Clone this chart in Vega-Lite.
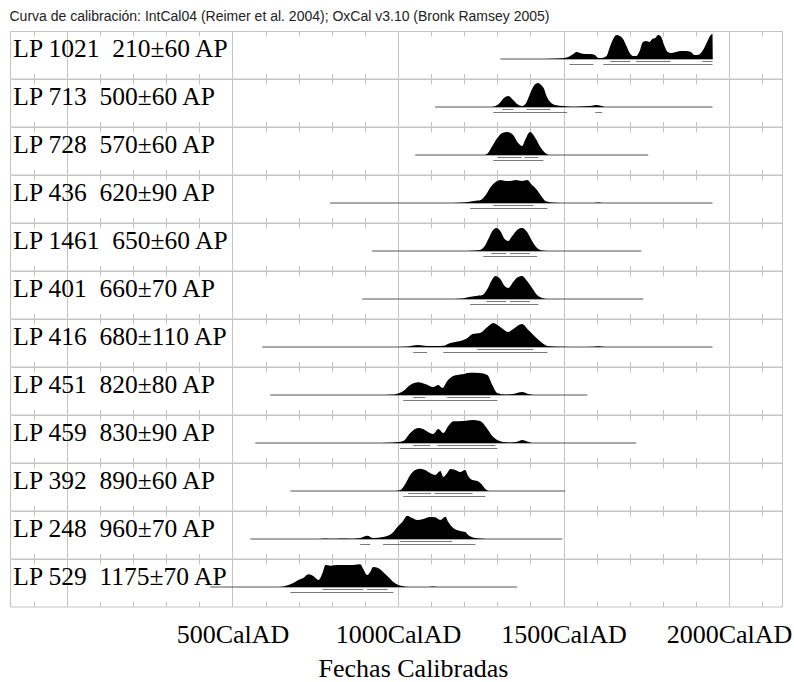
{
"$schema": "https://vega.github.io/schema/vega-lite/v6.json",
"padding": {"left": 9, "top": 9, "right": 10, "bottom": 0},
"title": {"text": "Curva de calibración: IntCal04 (Reimer et al. 2004); OxCal v3.10 (Bronk Ramsey 2005)", "anchor": "start", "font": "Liberation Sans", "fontSize": 14, "fontWeight": "normal", "color": "#222222", "offset": 6.5},
"config": {"view": {"stroke": "#c4c4c4"}, "concat": {"spacing": 0}, "facet": {"spacing": 0}},
"spacing": 0,
"datasets": {"all": [
{"s":"LP 1021","k":"l","t":"LP 1021\u00a0\u00a0210±60 AP"},
{"s":"LP 1021","k":"b","x":1309,"x2":1950},
{"s":"LP 1021","k":"r1","x":1641,"x2":1702},{"s":"LP 1021","k":"r1","x":1720,"x2":1823},{"s":"LP 1021","k":"r1","x":1919,"x2":1950},
{"s":"LP 1021","k":"r2","x":1518,"x2":1590},{"s":"LP 1021","k":"r2","x":1620,"x2":1950},
{"s":"LP 1021","k":"d","x":1440,"p":0},{"s":"LP 1021","k":"d","x":1480,"p":0.5},{"s":"LP 1021","k":"d","x":1510,"p":1.5},{"s":"LP 1021","k":"d","x":1525,"p":4},{"s":"LP 1021","k":"d","x":1540,"p":7},{"s":"LP 1021","k":"d","x":1550,"p":6},{"s":"LP 1021","k":"d","x":1565,"p":5},{"s":"LP 1021","k":"d","x":1580,"p":5},{"s":"LP 1021","k":"d","x":1595,"p":4},{"s":"LP 1021","k":"d","x":1605,"p":1},{"s":"LP 1021","k":"d","x":1615,"p":1},{"s":"LP 1021","k":"d","x":1630,"p":3},{"s":"LP 1021","k":"d","x":1640,"p":12},{"s":"LP 1021","k":"d","x":1650,"p":20},{"s":"LP 1021","k":"d","x":1660,"p":24},{"s":"LP 1021","k":"d","x":1670,"p":23},{"s":"LP 1021","k":"d","x":1680,"p":20},{"s":"LP 1021","k":"d","x":1690,"p":13},{"s":"LP 1021","k":"d","x":1700,"p":6},{"s":"LP 1021","k":"d","x":1710,"p":3},{"s":"LP 1021","k":"d","x":1720,"p":3},{"s":"LP 1021","k":"d","x":1730,"p":8},{"s":"LP 1021","k":"d","x":1740,"p":17},{"s":"LP 1021","k":"d","x":1750,"p":18},{"s":"LP 1021","k":"d","x":1760,"p":17},{"s":"LP 1021","k":"d","x":1768,"p":20},{"s":"LP 1021","k":"d","x":1777,"p":21},{"s":"LP 1021","k":"d","x":1786,"p":24},{"s":"LP 1021","k":"d","x":1795,"p":22},{"s":"LP 1021","k":"d","x":1805,"p":13},{"s":"LP 1021","k":"d","x":1815,"p":7},{"s":"LP 1021","k":"d","x":1825,"p":6},{"s":"LP 1021","k":"d","x":1840,"p":7},{"s":"LP 1021","k":"d","x":1855,"p":8},{"s":"LP 1021","k":"d","x":1870,"p":8},{"s":"LP 1021","k":"d","x":1885,"p":7},{"s":"LP 1021","k":"d","x":1895,"p":4},{"s":"LP 1021","k":"d","x":1905,"p":4},{"s":"LP 1021","k":"d","x":1915,"p":6},{"s":"LP 1021","k":"d","x":1925,"p":11},{"s":"LP 1021","k":"d","x":1935,"p":18},{"s":"LP 1021","k":"d","x":1945,"p":24},{"s":"LP 1021","k":"d","x":1950,"p":25},{"s":"LP 1021","k":"d","x":1951,"p":0},

{"s":"LP 713","k":"l","t":"LP 713\u00a0\u00a0500±60 AP"},
{"s":"LP 713","k":"b","x":1112,"x2":1950},
{"s":"LP 713","k":"r1","x":1315,"x2":1349},{"s":"LP 713","k":"r1","x":1388,"x2":1460},
{"s":"LP 713","k":"r2","x":1288,"x2":1511},{"s":"LP 713","k":"r2","x":1596,"x2":1617},
{"s":"LP 713","k":"d","x":1280,"p":0},{"s":"LP 713","k":"d","x":1295,"p":1},{"s":"LP 713","k":"d","x":1310,"p":5},{"s":"LP 713","k":"d","x":1320,"p":9},{"s":"LP 713","k":"d","x":1333,"p":11},{"s":"LP 713","k":"d","x":1345,"p":8},{"s":"LP 713","k":"d","x":1360,"p":3},{"s":"LP 713","k":"d","x":1375,"p":1},{"s":"LP 713","k":"d","x":1385,"p":3},{"s":"LP 713","k":"d","x":1395,"p":10},{"s":"LP 713","k":"d","x":1405,"p":18},{"s":"LP 713","k":"d","x":1415,"p":23},{"s":"LP 713","k":"d","x":1424,"p":24},{"s":"LP 713","k":"d","x":1432,"p":22},{"s":"LP 713","k":"d","x":1440,"p":19},{"s":"LP 713","k":"d","x":1450,"p":10},{"s":"LP 713","k":"d","x":1460,"p":5},{"s":"LP 713","k":"d","x":1475,"p":2},{"s":"LP 713","k":"d","x":1500,"p":1},{"s":"LP 713","k":"d","x":1525,"p":0.3},{"s":"LP 713","k":"d","x":1550,"p":0.5},{"s":"LP 713","k":"d","x":1580,"p":1},{"s":"LP 713","k":"d","x":1600,"p":2},{"s":"LP 713","k":"d","x":1610,"p":1.5},{"s":"LP 713","k":"d","x":1625,"p":0},

{"s":"LP 728","k":"l","t":"LP 728\u00a0\u00a0570±60 AP"},
{"s":"LP 728","k":"b","x":1052,"x2":1756},
{"s":"LP 728","k":"r1","x":1300,"x2":1373},{"s":"LP 728","k":"r1","x":1382,"x2":1424},
{"s":"LP 728","k":"r2","x":1288,"x2":1439},
{"s":"LP 728","k":"d","x":1262,"p":0},{"s":"LP 728","k":"d","x":1272,"p":2},{"s":"LP 728","k":"d","x":1285,"p":9},{"s":"LP 728","k":"d","x":1300,"p":17},{"s":"LP 728","k":"d","x":1315,"p":22},{"s":"LP 728","k":"d","x":1330,"p":23},{"s":"LP 728","k":"d","x":1348,"p":20},{"s":"LP 728","k":"d","x":1363,"p":12},{"s":"LP 728","k":"d","x":1375,"p":9},{"s":"LP 728","k":"d","x":1384,"p":15},{"s":"LP 728","k":"d","x":1399,"p":23},{"s":"LP 728","k":"d","x":1415,"p":17},{"s":"LP 728","k":"d","x":1430,"p":8},{"s":"LP 728","k":"d","x":1445,"p":2},{"s":"LP 728","k":"d","x":1456,"p":0},

{"s":"LP 436","k":"l","t":"LP 436\u00a0\u00a0620±90 AP"},
{"s":"LP 436","k":"b","x":795,"x2":1950},
{"s":"LP 436","k":"r1","x":1288,"x2":1409},
{"s":"LP 436","k":"r2","x":1218,"x2":1451},
{"s":"LP 436","k":"d","x":1150,"p":0},{"s":"LP 436","k":"d","x":1180,"p":0.3},{"s":"LP 436","k":"d","x":1210,"p":1},{"s":"LP 436","k":"d","x":1230,"p":2},{"s":"LP 436","k":"d","x":1250,"p":3},{"s":"LP 436","k":"d","x":1265,"p":8},{"s":"LP 436","k":"d","x":1280,"p":16},{"s":"LP 436","k":"d","x":1295,"p":21},{"s":"LP 436","k":"d","x":1310,"p":23},{"s":"LP 436","k":"d","x":1325,"p":22},{"s":"LP 436","k":"d","x":1340,"p":22},{"s":"LP 436","k":"d","x":1355,"p":23},{"s":"LP 436","k":"d","x":1375,"p":22},{"s":"LP 436","k":"d","x":1390,"p":23},{"s":"LP 436","k":"d","x":1405,"p":18},{"s":"LP 436","k":"d","x":1420,"p":13},{"s":"LP 436","k":"d","x":1435,"p":6},{"s":"LP 436","k":"d","x":1445,"p":2},{"s":"LP 436","k":"d","x":1465,"p":0.5},{"s":"LP 436","k":"d","x":1490,"p":0},{"s":"LP 436","k":"d","x":1590,"p":0},{"s":"LP 436","k":"d","x":1605,"p":0.4},{"s":"LP 436","k":"d","x":1620,"p":0},

{"s":"LP 1461","k":"l","t":"LP 1461\u00a0\u00a0650±60 AP"},
{"s":"LP 1461","k":"b","x":922,"x2":1735},
{"s":"LP 1461","k":"r1","x":1282,"x2":1327},{"s":"LP 1461","k":"r1","x":1339,"x2":1399},
{"s":"LP 1461","k":"r2","x":1258,"x2":1420},
{"s":"LP 1461","k":"d","x":1200,"p":0},{"s":"LP 1461","k":"d","x":1220,"p":0.3},{"s":"LP 1461","k":"d","x":1248,"p":1},{"s":"LP 1461","k":"d","x":1262,"p":5},{"s":"LP 1461","k":"d","x":1273,"p":12},{"s":"LP 1461","k":"d","x":1285,"p":20},{"s":"LP 1461","k":"d","x":1297,"p":23},{"s":"LP 1461","k":"d","x":1309,"p":20},{"s":"LP 1461","k":"d","x":1322,"p":12},{"s":"LP 1461","k":"d","x":1333,"p":10},{"s":"LP 1461","k":"d","x":1345,"p":15},{"s":"LP 1461","k":"d","x":1360,"p":21},{"s":"LP 1461","k":"d","x":1375,"p":23},{"s":"LP 1461","k":"d","x":1390,"p":19},{"s":"LP 1461","k":"d","x":1405,"p":10},{"s":"LP 1461","k":"d","x":1420,"p":3},{"s":"LP 1461","k":"d","x":1436,"p":0.5},{"s":"LP 1461","k":"d","x":1450,"p":0},

{"s":"LP 401","k":"l","t":"LP 401\u00a0\u00a0660±70 AP"},
{"s":"LP 401","k":"b","x":892,"x2":1741},
{"s":"LP 401","k":"r1","x":1267,"x2":1327},{"s":"LP 401","k":"r1","x":1339,"x2":1399},
{"s":"LP 401","k":"r2","x":1218,"x2":1424},
{"s":"LP 401","k":"d","x":1170,"p":0},{"s":"LP 401","k":"d","x":1195,"p":0.5},{"s":"LP 401","k":"d","x":1215,"p":2},{"s":"LP 401","k":"d","x":1235,"p":3},{"s":"LP 401","k":"d","x":1255,"p":4},{"s":"LP 401","k":"d","x":1270,"p":10},{"s":"LP 401","k":"d","x":1282,"p":18},{"s":"LP 401","k":"d","x":1294,"p":23},{"s":"LP 401","k":"d","x":1309,"p":20},{"s":"LP 401","k":"d","x":1322,"p":13},{"s":"LP 401","k":"d","x":1333,"p":11},{"s":"LP 401","k":"d","x":1348,"p":17},{"s":"LP 401","k":"d","x":1363,"p":22},{"s":"LP 401","k":"d","x":1375,"p":23},{"s":"LP 401","k":"d","x":1390,"p":18},{"s":"LP 401","k":"d","x":1405,"p":11},{"s":"LP 401","k":"d","x":1420,"p":4},{"s":"LP 401","k":"d","x":1436,"p":1},{"s":"LP 401","k":"d","x":1450,"p":0},

{"s":"LP 416","k":"l","t":"LP 416\u00a0\u00a0680±110 AP"},
{"s":"LP 416","k":"b","x":590,"x2":1950},
{"s":"LP 416","k":"r1","x":1239,"x2":1409},
{"s":"LP 416","k":"r2","x":1046,"x2":1088},{"s":"LP 416","k":"r2","x":1137,"x2":1451},
{"s":"LP 416","k":"d","x":1000,"p":0},{"s":"LP 416","k":"d","x":1030,"p":0.5},{"s":"LP 416","k":"d","x":1061,"p":2},{"s":"LP 416","k":"d","x":1088,"p":1},{"s":"LP 416","k":"d","x":1118,"p":1},{"s":"LP 416","k":"d","x":1137,"p":1.2},{"s":"LP 416","k":"d","x":1158,"p":4},{"s":"LP 416","k":"d","x":1188,"p":6},{"s":"LP 416","k":"d","x":1210,"p":9},{"s":"LP 416","k":"d","x":1225,"p":13},{"s":"LP 416","k":"d","x":1248,"p":14},{"s":"LP 416","k":"d","x":1270,"p":20},{"s":"LP 416","k":"d","x":1288,"p":24},{"s":"LP 416","k":"d","x":1309,"p":20},{"s":"LP 416","k":"d","x":1333,"p":15},{"s":"LP 416","k":"d","x":1348,"p":18},{"s":"LP 416","k":"d","x":1375,"p":23},{"s":"LP 416","k":"d","x":1394,"p":17},{"s":"LP 416","k":"d","x":1415,"p":10},{"s":"LP 416","k":"d","x":1436,"p":4},{"s":"LP 416","k":"d","x":1451,"p":1},{"s":"LP 416","k":"d","x":1470,"p":0.5},{"s":"LP 416","k":"d","x":1500,"p":0.2},{"s":"LP 416","k":"d","x":1540,"p":0},{"s":"LP 416","k":"d","x":1590,"p":0.2},{"s":"LP 416","k":"d","x":1605,"p":0.7},{"s":"LP 416","k":"d","x":1620,"p":0.2},{"s":"LP 416","k":"d","x":1640,"p":0},

{"s":"LP 451","k":"l","t":"LP 451\u00a0\u00a0820±80 AP"},
{"s":"LP 451","k":"b","x":614,"x2":1572},
{"s":"LP 451","k":"r1","x":1046,"x2":1082},{"s":"LP 451","k":"r1","x":1149,"x2":1279},
{"s":"LP 451","k":"r2","x":1016,"x2":1300},
{"s":"LP 451","k":"d","x":960,"p":0},{"s":"LP 451","k":"d","x":985,"p":0.5},{"s":"LP 451","k":"d","x":1000,"p":1.5},{"s":"LP 451","k":"d","x":1016,"p":4},{"s":"LP 451","k":"d","x":1037,"p":10},{"s":"LP 451","k":"d","x":1061,"p":12.7},{"s":"LP 451","k":"d","x":1082,"p":11},{"s":"LP 451","k":"d","x":1106,"p":8},{"s":"LP 451","k":"d","x":1122,"p":10},{"s":"LP 451","k":"d","x":1134,"p":7},{"s":"LP 451","k":"d","x":1149,"p":14},{"s":"LP 451","k":"d","x":1167,"p":19},{"s":"LP 451","k":"d","x":1194,"p":20.7},{"s":"LP 451","k":"d","x":1218,"p":22.3},{"s":"LP 451","k":"d","x":1248,"p":22},{"s":"LP 451","k":"d","x":1270,"p":20},{"s":"LP 451","k":"d","x":1285,"p":10},{"s":"LP 451","k":"d","x":1300,"p":2},{"s":"LP 451","k":"d","x":1324,"p":0.5},{"s":"LP 451","k":"d","x":1348,"p":1},{"s":"LP 451","k":"d","x":1375,"p":3},{"s":"LP 451","k":"d","x":1394,"p":1},{"s":"LP 451","k":"d","x":1410,"p":0},

{"s":"LP 459","k":"l","t":"LP 459\u00a0\u00a0830±90 AP"},
{"s":"LP 459","k":"b","x":569,"x2":1720},
{"s":"LP 459","k":"r1","x":1046,"x2":1097},{"s":"LP 459","k":"r1","x":1119,"x2":1294},
{"s":"LP 459","k":"r2","x":1006,"x2":1300},
{"s":"LP 459","k":"d","x":950,"p":0},{"s":"LP 459","k":"d","x":985,"p":0.5},{"s":"LP 459","k":"d","x":1000,"p":1},{"s":"LP 459","k":"d","x":1016,"p":2},{"s":"LP 459","k":"d","x":1037,"p":10},{"s":"LP 459","k":"d","x":1061,"p":15},{"s":"LP 459","k":"d","x":1076,"p":14},{"s":"LP 459","k":"d","x":1091,"p":11},{"s":"LP 459","k":"d","x":1106,"p":9},{"s":"LP 459","k":"d","x":1122,"p":14},{"s":"LP 459","k":"d","x":1137,"p":10},{"s":"LP 459","k":"d","x":1152,"p":17},{"s":"LP 459","k":"d","x":1167,"p":21.7},{"s":"LP 459","k":"d","x":1197,"p":22},{"s":"LP 459","k":"d","x":1225,"p":23},{"s":"LP 459","k":"d","x":1248,"p":22},{"s":"LP 459","k":"d","x":1270,"p":14},{"s":"LP 459","k":"d","x":1285,"p":7},{"s":"LP 459","k":"d","x":1300,"p":3},{"s":"LP 459","k":"d","x":1318,"p":1},{"s":"LP 459","k":"d","x":1339,"p":0.5},{"s":"LP 459","k":"d","x":1360,"p":1.3},{"s":"LP 459","k":"d","x":1375,"p":3},{"s":"LP 459","k":"d","x":1390,"p":1.5},{"s":"LP 459","k":"d","x":1405,"p":0},

{"s":"LP 392","k":"l","t":"LP 392\u00a0\u00a0890±60 AP"},
{"s":"LP 392","k":"b","x":675,"x2":1505},
{"s":"LP 392","k":"r1","x":1031,"x2":1100},{"s":"LP 392","k":"r1","x":1110,"x2":1225},
{"s":"LP 392","k":"r2","x":1016,"x2":1264},
{"s":"LP 392","k":"d","x":990,"p":0},{"s":"LP 392","k":"d","x":1007,"p":1},{"s":"LP 392","k":"d","x":1022,"p":7},{"s":"LP 392","k":"d","x":1037,"p":16},{"s":"LP 392","k":"d","x":1052,"p":21},{"s":"LP 392","k":"d","x":1067,"p":22.3},{"s":"LP 392","k":"d","x":1082,"p":21},{"s":"LP 392","k":"d","x":1097,"p":18},{"s":"LP 392","k":"d","x":1112,"p":16},{"s":"LP 392","k":"d","x":1128,"p":20},{"s":"LP 392","k":"d","x":1137,"p":14},{"s":"LP 392","k":"d","x":1149,"p":18},{"s":"LP 392","k":"d","x":1158,"p":22},{"s":"LP 392","k":"d","x":1173,"p":21},{"s":"LP 392","k":"d","x":1188,"p":19},{"s":"LP 392","k":"d","x":1203,"p":21},{"s":"LP 392","k":"d","x":1212,"p":15},{"s":"LP 392","k":"d","x":1225,"p":11},{"s":"LP 392","k":"d","x":1240,"p":10},{"s":"LP 392","k":"d","x":1252,"p":7},{"s":"LP 392","k":"d","x":1264,"p":2},{"s":"LP 392","k":"d","x":1275,"p":0},

{"s":"LP 248","k":"l","t":"LP 248\u00a0\u00a0960±70 AP"},
{"s":"LP 248","k":"b","x":554,"x2":1496},
{"s":"LP 248","k":"r1","x":1007,"x2":1164},
{"s":"LP 248","k":"r2","x":886,"x2":916},{"s":"LP 248","k":"r2","x":955,"x2":1234},
{"s":"LP 248","k":"d","x":760,"p":0},{"s":"LP 248","k":"d","x":781,"p":0.5},{"s":"LP 248","k":"d","x":800,"p":0.2},{"s":"LP 248","k":"d","x":826,"p":0.5},{"s":"LP 248","k":"d","x":860,"p":0.3},{"s":"LP 248","k":"d","x":886,"p":1},{"s":"LP 248","k":"d","x":907,"p":3.3},{"s":"LP 248","k":"d","x":925,"p":1},{"s":"LP 248","k":"d","x":955,"p":2},{"s":"LP 248","k":"d","x":983,"p":6},{"s":"LP 248","k":"d","x":998,"p":12},{"s":"LP 248","k":"d","x":1013,"p":17},{"s":"LP 248","k":"d","x":1028,"p":23.3},{"s":"LP 248","k":"d","x":1043,"p":21},{"s":"LP 248","k":"d","x":1058,"p":19},{"s":"LP 248","k":"d","x":1076,"p":20},{"s":"LP 248","k":"d","x":1097,"p":22},{"s":"LP 248","k":"d","x":1112,"p":21.7},{"s":"LP 248","k":"d","x":1128,"p":19},{"s":"LP 248","k":"d","x":1143,"p":22.3},{"s":"LP 248","k":"d","x":1152,"p":17},{"s":"LP 248","k":"d","x":1167,"p":11},{"s":"LP 248","k":"d","x":1188,"p":8},{"s":"LP 248","k":"d","x":1203,"p":7},{"s":"LP 248","k":"d","x":1212,"p":4},{"s":"LP 248","k":"d","x":1234,"p":1},{"s":"LP 248","k":"d","x":1258,"p":0.3},{"s":"LP 248","k":"d","x":1275,"p":0},

{"s":"LP 529","k":"l","t":"LP 529\u00a0\u00a01175±70 AP"},
{"s":"LP 529","k":"b","x":433,"x2":1360},
{"s":"LP 529","k":"r1","x":772,"x2":895},{"s":"LP 529","k":"r1","x":907,"x2":968},
{"s":"LP 529","k":"r2","x":675,"x2":986},
{"s":"LP 529","k":"d","x":640,"p":0},{"s":"LP 529","k":"d","x":654,"p":0.5},{"s":"LP 529","k":"d","x":669,"p":2},{"s":"LP 529","k":"d","x":684,"p":4},{"s":"LP 529","k":"d","x":699,"p":7},{"s":"LP 529","k":"d","x":714,"p":9},{"s":"LP 529","k":"d","x":729,"p":12.7},{"s":"LP 529","k":"d","x":744,"p":11},{"s":"LP 529","k":"d","x":760,"p":7},{"s":"LP 529","k":"d","x":772,"p":14},{"s":"LP 529","k":"d","x":781,"p":22},{"s":"LP 529","k":"d","x":796,"p":21.3},{"s":"LP 529","k":"d","x":817,"p":22},{"s":"LP 529","k":"d","x":847,"p":22},{"s":"LP 529","k":"d","x":865,"p":22},{"s":"LP 529","k":"d","x":886,"p":22.7},{"s":"LP 529","k":"d","x":895,"p":18},{"s":"LP 529","k":"d","x":907,"p":12},{"s":"LP 529","k":"d","x":916,"p":15},{"s":"LP 529","k":"d","x":925,"p":20},{"s":"LP 529","k":"d","x":940,"p":19},{"s":"LP 529","k":"d","x":955,"p":15},{"s":"LP 529","k":"d","x":971,"p":10},{"s":"LP 529","k":"d","x":986,"p":5},{"s":"LP 529","k":"d","x":1001,"p":2},{"s":"LP 529","k":"d","x":1016,"p":0.7},{"s":"LP 529","k":"d","x":1031,"p":0},{"s":"LP 529","k":"d","x":1090,"p":0},{"s":"LP 529","k":"d","x":1106,"p":0.5},{"s":"LP 529","k":"d","x":1120,"p":0}
]},
"vconcat": [
{
 "data": {"name": "all"},
 "bounds": "flush",
 "facet": {"row": {"field": "s", "type": "nominal", "title": null, "header": {"labels": false, "labelPadding": 0, "titlePadding": 0},
   "sort": ["LP 1021","LP 713","LP 728","LP 436","LP 1461","LP 401","LP 416","LP 451","LP 459","LP 392","LP 248","LP 529"]}},
 "spacing": 0,
 "resolve": {"axis": {"x": "independent"}},
 "spec": {
  "width": 772, "height": 47.5,
  "resolve": {"axis": {"x": "independent"}},
  "layer": [
   {"transform": [{"filter": "datum.k === 'b'"}],
    "mark": {"type": "rule", "color": "#555555", "strokeWidth": 1},
    "encoding": {
     "x": {"field": "x", "type": "quantitative", "scale": {"domain": [-172, 2160], "nice": false, "zero": false},
       "axis": {"orient": "bottom", "values": [-100,0,100,200,300,400,500,600,700,800,900,1000,1100,1200,1300,1400,1500,1600,1700,1800,1900,2000,2100], "labels": false, "domain": false, "ticks": true, "tickSize": -5, "tickColor": "#c4c4c4", "grid": true, "gridColor": "#c4c4c4", "gridOpacity": {"condition": {"test": "datum.value % 500 === 0", "value": 1}, "value": 0}, "title": null}},
     "x2": {"field": "x2"},
     "y": {"datum": 0, "type": "quantitative", "scale": {"domain": [-19.5, 28], "nice": false, "zero": false}, "axis": null}
    }},
   {"transform": [{"filter": "datum.k === 'd'"}],
    "mark": {"type": "area", "color": "#000000", "interpolate": "monotone"},
    "encoding": {
     "x": {"field": "x", "type": "quantitative",
       "axis": {"orient": "top", "values": [-100,0,100,200,300,400,500,600,700,800,900,1000,1100,1200,1300,1400,1500,1600,1700,1800,1900,2000,2100], "labels": false, "domain": false, "ticks": true, "tickSize": -5, "tickColor": "#c4c4c4", "grid": false, "title": null}},
     "y": {"field": "p", "type": "quantitative", "axis": null},
     "y2": {"datum": 0}
    }},
   {"transform": [{"filter": "datum.k === 'r1'"}],
    "mark": {"type": "rule", "color": "#777777", "strokeWidth": 1},
    "encoding": {"x": {"field": "x", "type": "quantitative", "axis": null}, "x2": {"field": "x2"}, "y": {"datum": -2.5, "type": "quantitative", "axis": null}}},
   {"transform": [{"filter": "datum.k === 'r2'"}],
    "mark": {"type": "rule", "color": "#777777", "strokeWidth": 1},
    "encoding": {"x": {"field": "x", "type": "quantitative", "axis": null}, "x2": {"field": "x2"}, "y": {"datum": -5.5, "type": "quantitative", "axis": null}}},
   {"transform": [{"filter": "datum.k === 'l'"}],
    "mark": {"type": "text", "font": "Liberation Serif", "fontSize": 25.5, "align": "left", "baseline": "alphabetic", "color": "#000000"},
    "encoding": {"x": {"datum": -162, "type": "quantitative", "axis": null}, "y": {"datum": 2, "type": "quantitative", "axis": null}, "text": {"field": "t"}}}
  ]
 }
},
{
 "data": {"name": "all"},
 "transform": [{"filter": "datum.k === 'b'"}],
 "width": 772, "height": 1,
 "view": {"stroke": null},
 "mark": {"type": "rule", "opacity": 0},
 "encoding": {
  "x": {"field": "x", "type": "quantitative", "scale": {"domain": [-172, 2160], "nice": false, "zero": false},
    "axis": {"orient": "bottom", "values": [500, 1000, 1500, 2000], "labelExpr": "datum.value + 'CalAD'", "ticks": false, "domain": false, "grid": false, "labelFont": "Liberation Serif", "labelFontSize": 26, "labelColor": "#000000", "labelPadding": 12, "title": "Fechas Calibradas", "titleFont": "Liberation Serif", "titleFontSize": 26, "titleFontWeight": "normal", "titleColor": "#000000", "titlePadding": 8, "titleX": 403}},
  "x2": {"field": "x2"}
 }
}
]
}
